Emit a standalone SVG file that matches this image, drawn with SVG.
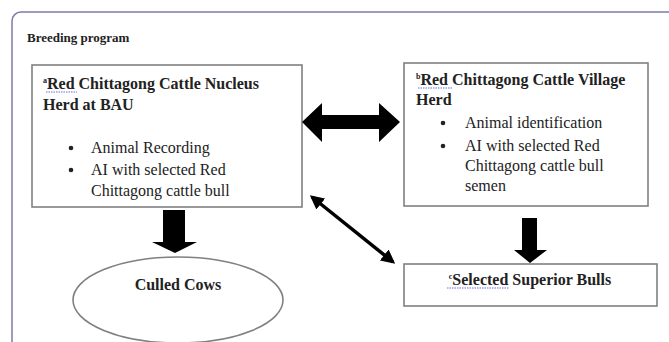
<svg xmlns="http://www.w3.org/2000/svg" width="669" height="342" viewBox="0 0 669 342">
<style>
.box{fill:#fff;stroke:#808080;stroke-width:1.6}
.t{font-family:"Liberation Serif","Times New Roman",serif;fill:#222}
.b{font-weight:bold;font-size:16px}
.r{font-size:16px}
.sq{fill:none;stroke:#5060e0;stroke-width:0.9;stroke-dasharray:1.5 1}
.arr{fill:#000}
</style>
<defs>
<marker id="ah" viewBox="0 0 10 10" refX="8" refY="5" markerWidth="4" markerHeight="4" orient="auto-start-reverse">
<path d="M0,0 L10,5 L0,10 z" fill="#000"/>
</marker>
</defs>
<rect width="669" height="342" fill="#fff"/>
<rect x="12" y="12" width="700" height="400" rx="9" fill="none" stroke="#7c7aa8" stroke-width="1.5"/>
<text class="t" x="27" y="42" font-size="13" font-weight="bold">Breeding program</text>

<g id="nucleus">
<rect class="box" x="32" y="65" width="270" height="142"/>
<text class="t b" x="43" y="89"><tspan font-size="8" dy="-6">a</tspan><tspan dy="6">Red Chittagong Cattle Nucleus</tspan></text>
<path class="sq" d="M46,92 L77,92"/>
<text class="t b" x="43" y="110">Herd at BAU</text>
<circle cx="71" cy="148" r="2.3" fill="#222"/>
<text class="t r" x="91" y="153">Animal Recording</text>
<circle cx="71" cy="170" r="2.3" fill="#222"/>
<text class="t r" x="91" y="175">AI with selected Red</text>
<text class="t r" x="91" y="196">Chittagong cattle bull</text>
</g>

<g id="village">
<rect class="box" x="404" y="63" width="244" height="143"/>
<text class="t b" x="416" y="85"><tspan font-size="8" dy="-6">b</tspan><tspan dy="6">Red Chittagong Cattle Village</tspan></text>
<path class="sq" d="M418,88 L452,88"/>
<text class="t b" x="416" y="105">Herd</text>
<circle cx="443" cy="123" r="2.3" fill="#222"/>
<text class="t r" x="465" y="128">Animal identification</text>
<circle cx="443" cy="146" r="2.3" fill="#222"/>
<text class="t r" x="465" y="151">AI with selected Red</text>
<text class="t r" x="465" y="171">Chittagong cattle bull</text>
<text class="t r" x="465" y="191">semen</text>
</g>

<g id="bulls">
<rect class="box" x="404" y="264" width="253" height="42"/>
<text class="t b" x="530" y="285" text-anchor="middle"><tspan font-size="8" dy="-6">c</tspan><tspan dy="6">Selected Superior Bulls</tspan></text>
<path class="sq" d="M447,288 L509,288"/>
</g>

<g id="culled">
<ellipse cx="178" cy="300" rx="105" ry="43" fill="#fff" stroke="#808080" stroke-width="1.6"/>
<text class="t b" x="178" y="290" text-anchor="middle">Culled Cows</text>
</g>

<g id="connectors">
<path class="arr" d="M302,122 L322,103 L322,115 L379,115 L379,103 L400,122 L379,142 L379,129 L322,129 L322,142 Z"/>
<line x1="312" y1="197" x2="393" y2="262" stroke="#000" stroke-width="3.5" marker-start="url(#ah)" marker-end="url(#ah)"/>
<path class="arr" d="M163,210 L185,210 L185,242 L197,242 L175,253 L152,242 L163,242 Z"/>
<path class="arr" d="M522,218 L537,218 L537,250 L547,250 L530,263 L514,250 L522,250 Z"/>
</g>
</svg>
